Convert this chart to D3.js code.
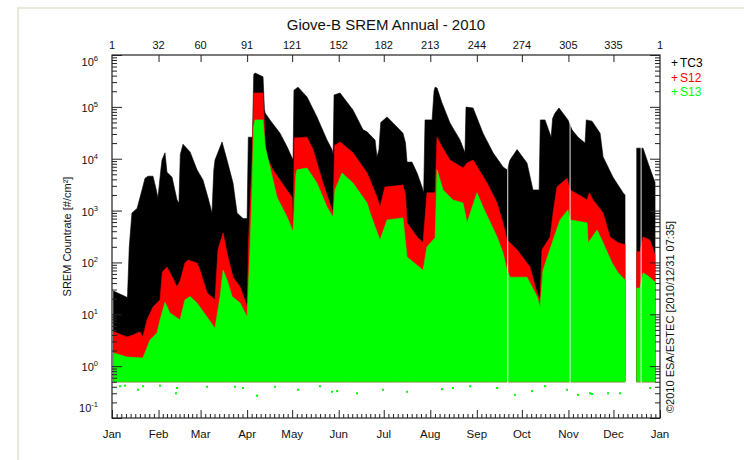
<!DOCTYPE html>
<html><head><meta charset="utf-8">
<script src="https://cdn.jsdelivr.net/npm/d3@7"></script>
<style>
html,body{margin:0;padding:0;background:#fff;}
svg{display:block;font-family:"Liberation Sans",Arial,Helvetica,sans-serif;}
</style></head>
<body>
<svg id="c" width="744" height="460"></svg>
<script>
// ---------- data ----------
const title = "Giove-B SREM Annual - 2010";
const monthStarts = [1,32,60,91,121,152,182,213,244,274,305,335,366];
const monthLabels = ["Jan","Feb","Mar","Apr","May","Jun","Jul","Aug","Sep","Oct","Nov","Dec","Jan"];
const dayLabels = ["1","32","60","91","121","152","182","213","244","274","305","335","1"];
const decades = [-1,0,1,2,3,4,5,6];
const seriesNames = ["TC3","S12","S13"];
const countFloor = 0.5;            // lower edge of the dense point cloud
// upper envelopes [day of year, countrate]; null = data gap
const tc3Max = [[2,28],[7,24],[11.3,21],[12.5,200],[14.3,900],[17.7,1100],[21,2500],[23,4200],[25,4600],[28.3,4600],[30.5,2500],[31.6,1750],[33.5,6000],[34.3,9400],[36.3,13000],[37.6,5500],[41,4400],[44.3,1600],[45.6,1400],[46.5,12000],[48.3,19000],[53,13500],[57.6,6100],[61.6,3900],[65,1750],[67.6,900],[68.8,6000],[69.6,9400],[74.3,21000],[77.6,9400],[81.6,3400],[84.3,900],[88.3,700],[91,700],[91.8,26000],[94.6,26000],[95.4,420000],[96.3,450000],[101.6,380000],[102.5,90000],[103,76000],[106.2,56000],[112.9,31000],[117.6,17000],[121.6,9400],[122.2,210000],[124.9,240000],[130.9,155000],[137.5,64000],[144.2,23000],[147.5,15000],[148.3,12000],[148.9,170000],[152.9,185000],[161.5,87000],[168.2,36000],[170.9,33000],[174.9,25000],[176.2,23000],[177.5,10800],[178.8,15000],[180,50000],[184.2,64000],[190.8,41000],[194.8,31000],[196.5,20000],[197.5,8600],[200.8,8600],[204.2,5300],[207.5,2850],[208.6,2200],[209.5,56000],[214.2,56000],[215.5,200000],[216.2,240000],[217.5,230000],[220.8,119000],[226.1,49000],[232.8,23000],[236.1,13000],[236.8,99000],[241.5,95000],[248.1,31000],[254.8,13000],[261.5,6900],[264.1,6100],[266.1,9400],[270.8,15000],[277.4,8300],[281.4,2500],[285.5,2500],[286.3,56000],[289.4,56000],[293.5,26000],[294.5,60000],[296.1,76000],[298.7,95000],[304.7,56000],[307.4,36000],[311.4,26000],[316.1,20000],[316.9,56000],[320.7,53000],[326.1,31000],[328.1,10800],[334.7,4400],[341.4,2200],[342.7,2000],null,[350.5,16000],[354.7,16000],[358,8300],[361.4,4400],[362.7,3500]];
const s12Max = [[2,4.6],[11,3.65],[15,4.0],[19.6,4.6],[21.6,3.65],[24.3,7.8],[28.3,13.8],[33,19],[34.5,65],[37.6,82],[40,60],[44.3,34],[46.5,45],[49.6,97],[51.6,111],[57.6,97],[59.6,71],[64.3,26],[69.6,19],[71.6,175],[75,370],[77.6,152],[81.6,52],[86.3,34],[91,14],[92,270],[94.3,9400],[95.4,185000],[101.6,185000],[103,20000],[104.2,10800],[108.2,6100],[114.2,3400],[120.9,1800],[121.6,390],[122.5,25000],[130.9,26000],[134.9,15000],[141.5,3400],[148.2,900],[149.3,18000],[152.9,21000],[161.5,13000],[170.9,5300],[172.9,3900],[177.5,1800],[179.5,1170],[182.8,2850],[194.8,3100],[196.5,2000],[197.5,580],[204.2,310],[208.2,240],[210.8,2200],[216.2,2200],[217.5,26000],[220.8,17000],[226.1,9400],[234.8,6600],[237.5,8300],[241.5,9400],[250.8,3400],[257.5,1400],[262,500],[264.1,270],[270.8,175],[279.4,82],[284.1,26],[286.1,19],[287.4,175],[292.8,310],[295,1000],[297.4,2850],[304.1,4200],[306.1,2500],[314.7,1800],[317.4,1600],[319,2200],[321.4,1600],[328.1,900],[332.7,310],[338.1,240],[342.7,220],null,[350.5,160],[352.7,160],[354.7,310],[359.3,270],[362.7,139]];
const s13Max = [[2,1.8],[11,1.5],[21.6,1.44],[26.3,3.2],[31,4.4],[33,7.8],[36.3,17],[39.6,10.6],[46.3,7.8],[49.6,19],[53,22],[57.6,16.5],[64.3,8.9],[69.6,5.4],[73,22],[75,71],[77.6,46],[81,22],[86.3,16.5],[91,8.9],[93,200],[94.3,2500],[95.3,41000],[96.3,56000],[101.6,56000],[103,17000],[106.2,6900],[110.9,1800],[117.6,750],[121.6,390],[123.5,5000],[124.2,6100],[130.9,6600],[137.5,3400],[144.2,1170],[148.2,750],[149.5,2500],[154.2,5300],[161.5,3400],[170.9,1400],[172.9,900],[179.5,270],[184.2,660],[194.8,720],[197.5,127],[208.2,71],[210.8,200],[216.2,300],[217.5,6100],[221.5,2500],[228.1,1600],[234.8,1400],[237.5,580],[244.1,2200],[248.1,1170],[257.5,310],[261.5,152],[264.1,71],[266.1,52],[277.4,52],[284.1,22],[286.1,13.8],[288.1,71],[294.8,270],[299.4,660],[304.7,1030],[306.1,660],[317.4,580],[318.1,240],[324.1,420],[328.1,240],[334.1,97],[338.1,63],[342.7,46],null,[350.5,32],[352.7,32],[354.7,63],[358,55],[362.7,42]];
// short outages (day ranges) seen as white vertical lines
const dataGaps = [[264.3,264.9],[305.8,306.4],[353.1,353.7]];
// sparse S13 points below the dense cloud [day, countrate]
const s13LowDots = [[6.3,0.41],[9.6,0.42],[18.3,0.35],[21.6,0.41],[33,0.42],[43.6,0.30],[44.3,0.38],[64.3,0.40],[82.9,0.40],[88.3,0.38],[97.6,0.27],[109.6,0.40],[124.9,0.35],[139.5,0.41],[147.5,0.32],[150.9,0.33],[164.2,0.30],[181.5,0.35],[197.5,0.32],[220.8,0.36],[228.1,0.38],[239.5,0.41],[257.5,0.38],[269.4,0.28],[280.8,0.33],[289.4,0.41],[304.1,0.35],[311.4,0.28],[319.4,0.30],[320.7,0.29],[331.4,0.30],[339.4,0.30],[359.4,0.38]];
const copyright = "\u00A92010 ESA/ESTEC [2010/12/31 07:35]";
const yTitle = "SREM Countrate [#/cm\u00B2]";

// ---------- drawing ----------
const colors = {TC3:"#000000", S12:"#ff0000", S13:"#00ff00"};
const L = 112, R = 660, T = 55, B = 418;
const svg = d3.select("#c");
const x = d3.scaleLinear().domain([1,366]).range([L,R]);
const y = d3.scaleLog().domain([0.1,1e6]).range([B,T]);

// light page frame
svg.append("rect").attr("x",18).attr("y",8).attr("width",800).attr("height",800)
  .attr("fill","none").attr("stroke","#ece8dc").attr("stroke-width",2);

const area = d3.area()
  .defined(d => d !== null)
  .x(d => x(d[0]))
  .y0(() => y(countFloor))
  .y1(d => y(d[1]));

const plot = svg.append("g");
[["TC3",tc3Max],["S12",s12Max],["S13",s13Max]].forEach(([n,data]) => {
  plot.append("path").datum(data).attr("d",area).attr("fill",colors[n])
    .attr("stroke",colors[n]).attr("stroke-width",0.6);
});
plot.selectAll("rect.dot").data(s13LowDots).enter().append("rect")
  .attr("x",d => x(d[0])-1).attr("y",d => y(d[1])-1).attr("width",2).attr("height",2)
  .attr("fill",colors.S13);
plot.selectAll("rect.gap").data(dataGaps).enter().append("rect")
  .attr("x",d => x(d[0])).attr("width",d => x(d[1])-x(d[0]))
  .attr("y",T).attr("height",B-T).attr("fill","#fff");

// axes
const axisColor = "#222";
function styleAxis(g){ g.select(".domain").remove(); g.selectAll("line").attr("stroke",axisColor).attr("stroke-width",1); g.selectAll("text").remove(); }
const majorVals = decades.map(e => Math.pow(10,e));
const minorVals = [];
decades.slice(0,-1).forEach(e => { for (let k=2;k<=9;k++) minorVals.push(k*Math.pow(10,e)); });
svg.append("g").attr("transform",`translate(${L},0)`).call(d3.axisLeft(y).tickValues(majorVals).tickSize(-10)).call(styleAxis);
svg.append("g").attr("transform",`translate(${L},0)`).call(d3.axisLeft(y).tickValues(minorVals).tickSize(-5)).call(styleAxis);
svg.append("g").attr("transform",`translate(${R},0)`).call(d3.axisRight(y).tickValues(majorVals).tickSize(-10)).call(styleAxis);
svg.append("g").attr("transform",`translate(${R},0)`).call(d3.axisRight(y).tickValues(minorVals).tickSize(-5)).call(styleAxis);
const minorDays = [];
for (let i=0;i<monthStarts.length-1;i++){ const a=monthStarts[i], b=monthStarts[i+1]; for(let k=1;k<10;k++) minorDays.push(a+(b-a)*k/10); }
svg.append("g").attr("transform",`translate(0,${B})`).call(d3.axisBottom(x).tickValues(monthStarts).tickSize(-8)).call(styleAxis);
svg.append("g").attr("transform",`translate(0,${B})`).call(d3.axisBottom(x).tickValues(minorDays).tickSize(-4)).call(styleAxis);
svg.append("g").attr("transform",`translate(0,${T})`).call(d3.axisTop(x).tickValues(monthStarts.slice(1,-1)).tickSize(-7)).call(styleAxis);
svg.append("rect").attr("x",L).attr("y",T).attr("width",R-L).attr("height",B-T)
  .attr("fill","none").attr("stroke",axisColor).attr("stroke-width",1.2);

// y labels
decades.forEach(e => {
  let ty = y(Math.pow(10,e)) + 5;
  if (e === 6) ty = T + 11;
  if (e === -1) ty = B - 6;
  const t = svg.append("text").attr("x",98).attr("y",ty).attr("text-anchor","end")
    .attr("font-size",11).attr("fill","#111");
  t.append("tspan").text("10");
  t.append("tspan").attr("dy",-5).attr("font-size",7.5).text(e);
});
// x labels
svg.selectAll("text.mon").data(monthStarts).enter().append("text")
  .attr("x",d => x(d)).attr("y",B+20).attr("text-anchor","middle").attr("font-size",11.5).attr("fill","#111")
  .text((d,i) => monthLabels[i]);
svg.selectAll("text.day").data(monthStarts).enter().append("text")
  .attr("x",d => x(d)).attr("y",T-6).attr("text-anchor","middle").attr("font-size",11).attr("fill","#111")
  .text((d,i) => dayLabels[i]);
// title
svg.append("text").attr("x",(L+R)/2).attr("y",30).attr("text-anchor","middle")
  .attr("font-size",15).attr("fill","#111").text(title);
// y title
svg.append("text").attr("transform",`translate(71,${(T+B)/2}) rotate(-90)`).attr("text-anchor","middle")
  .attr("font-size",11).attr("fill","#111").text(yTitle);
// copyright
svg.append("text").attr("transform",`translate(674,${B-5}) rotate(-90)`).attr("text-anchor","start")
  .attr("font-size",11).attr("fill","#111").text(copyright);
// legend
seriesNames.forEach((n,i) => {
  const t = svg.append("text").attr("x",671).attr("y",67+i*14.5).attr("font-size",12).attr("fill",colors[n]);
  t.append("tspan").text("+");
  t.append("tspan").attr("dx",2).text(n);
});
</script>
</body></html>
